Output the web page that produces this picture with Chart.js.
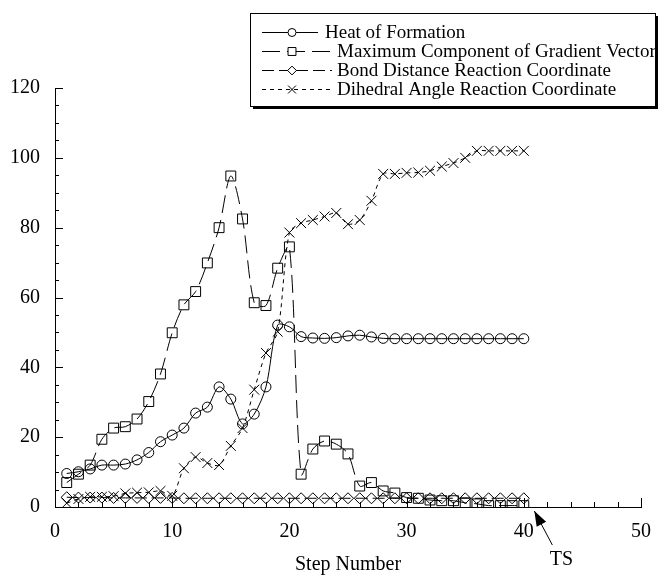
<!DOCTYPE html>
<html>
<head>
<meta charset="utf-8">
<script src="https://cdn.jsdelivr.net/npm/chart.js@4.4.1/dist/chart.umd.min.js"></script>
<style>
html,body{margin:0;padding:0;background:#fff;}
canvas{display:block;}
</style>
</head>
<body>
<canvas id="c" width="664" height="577"></canvas>
<script>
const steps = [1,2,3,4,5,6,7,8,9,10,11,12,13,14,15,16,17,18,19,20,21,22,23,24,25,26,27,28,29,30,31,32,33,34,35,36,37,38,39,40];
const heatOfFormation = [9.6,10.1,10.9,12.0,12.0,12.3,13.5,15.6,18.7,20.6,22.6,26.9,28.6,34.4,30.9,23.8,26.6,34.4,52.1,51.6,48.8,48.4,48.3,48.5,49.0,49.2,48.7,48.3,48.2,48.2,48.2,48.2,48.2,48.2,48.2,48.2,48.2,48.2,48.2,48.2];
const maxGradient = [7.0,9.4,12.0,19.4,22.6,23.0,25.2,30.2,38.1,49.9,57.9,61.7,69.9,80.0,94.8,82.5,58.5,57.7,68.4,74.5,9.4,16.6,18.9,18.0,15.2,6.0,7.0,4.6,4.0,2.7,2.5,2.0,1.8,1.8,1.2,0.9,0.4,0.4,0.4,0.4];
const bondDistance = [2.8,2.7,2.7,2.7,2.6,2.6,2.6,2.6,2.6,2.6,2.5,2.5,2.5,2.5,2.5,2.5,2.5,2.5,2.5,2.5,2.5,2.5,2.5,2.5,2.5,2.5,2.5,2.5,2.5,2.5,2.5,2.5,2.5,2.5,2.5,2.5,2.5,2.5,2.5,2.5];
const dihedralAngle = [1.1,2.3,2.9,2.9,3.1,3.9,4.1,4.2,4.6,3.2,11.1,14.3,12.6,12.0,17.5,22.6,33.6,44.1,50.2,78.6,81.3,82.2,83.2,84.2,81.0,82.2,87.7,95.4,95.4,95.7,95.8,96.3,97.5,98.5,100.0,102.0,102.0,102.0,102.0,102.0];
const seriesNames = ["Heat of Formation","Maximum Component of Gradient Vector","Bond Distance Reaction Coordinate","Dihedral Angle Reaction Coordinate"];
const xTicks = [0,10,20,30,40,50];
const yTicks = [0,20,40,60,80,100,120];

const FONT = "'Liberation Serif', 'Times New Roman', serif";

function pts(arr){ return steps.map((s,i)=>({x:s,y:arr[i]})); }

const styles = [
  {style:'circle', r:5, dash:[]},
  {style:'rect', r:7, dash:[18,7]},
  {style:'rectRot', r:5.5, dash:[12,5]},
  {style:'crossRot', r:7, dash:[4,4]}
];
const allData = [heatOfFormation, maxGradient, bondDistance, dihedralAngle];

const datasets = allData.map((arr,i)=>({
  label: seriesNames[i],
  data: pts(arr),
  borderColor:'#000',
  borderWidth:1,
  borderDash: styles[i].dash,
  backgroundColor:'rgba(0,0,0,0)',
  pointStyle: styles[i].style,
  pointRadius: styles[i].r,
  pointBorderColor:'#000',
  pointBackgroundColor:'rgba(0,0,0,0)',
  pointBorderWidth:1,
  tension:0.3,
  fill:false
}));

const ticksPlugin = {
  id:'innerTicks',
  afterDraw(chart){
    const ctx = chart.ctx;
    const xs = chart.scales.x, ys = chart.scales.y;
    const ca = chart.chartArea;
    ctx.save();
    ctx.strokeStyle='#000'; ctx.lineWidth=1; ctx.setLineDash([]);
    for(let v=0; v<=120; v+=5){
      const py = Math.round(ys.getPixelForValue(v))+0.5;
      const len = (v%20===0)?8:4;
      ctx.beginPath(); ctx.moveTo(ca.left, py); ctx.lineTo(ca.left+len, py); ctx.stroke();
    }
    for(let v=0; v<=50; v+=2){
      const px = Math.round(xs.getPixelForValue(v))+0.5;
      const len = (v%10===0)?9:5;
      ctx.beginPath(); ctx.moveTo(px, ca.bottom); ctx.lineTo(px, ca.bottom-len); ctx.stroke();
    }
    // TS annotation
    const tipX = xs.getPixelForValue(40.9), tipY = ys.getPixelForValue(0)+4;
    const tailX = tipX+18, tailY = tipY+34;
    const ang = Math.atan2(tipY-tailY, tipX-tailX);
    ctx.beginPath(); ctx.moveTo(tailX, tailY); ctx.lineTo(tipX, tipY); ctx.stroke();
    const hl = 16, hw = 0.34;
    ctx.beginPath();
    ctx.moveTo(tipX, tipY);
    ctx.lineTo(tipX - hl*Math.cos(ang-hw), tipY - hl*Math.sin(ang-hw));
    ctx.lineTo(tipX - hl*Math.cos(ang+hw), tipY - hl*Math.sin(ang+hw));
    ctx.closePath(); ctx.fillStyle='#000'; ctx.fill();
    ctx.font = "20px "+FONT; ctx.textAlign='center'; ctx.textBaseline='middle';
    ctx.fillText('TS', tailX+9, tailY+15);
    ctx.restore();
  }
};

const legendPlugin = {
  id:'boxLegend',
  afterDraw(chart){
    const ctx = chart.ctx;
    const L=250, T=13, R=655, B=106;
    ctx.save();
    ctx.fillStyle='#fff'; ctx.fillRect(L,T,R-L,B-T);
    ctx.fillStyle='#000';
    ctx.fillRect(R, T+3, 3, B-T);
    ctx.fillRect(L+3, B, R-L, 3);
    ctx.strokeStyle='#000'; ctx.lineWidth=1; ctx.setLineDash([]);
    ctx.strokeRect(L+0.5, T+0.5, R-L, B-T);
    const rowsY=[32,51,70,89];
    ctx.font = "19px "+FONT; ctx.textBaseline='middle'; ctx.textAlign='left';
    chart.data.datasets.forEach((ds,i)=>{
      const y = rowsY[i];
      const x0 = 262, x1 = i===0?318:332;
      ctx.strokeStyle='#000';
      ctx.setLineDash(ds.borderDash||[]);
      ctx.beginPath(); ctx.moveTo(x0,y+0.5); ctx.lineTo(x1,y+0.5); ctx.stroke();
      ctx.setLineDash([]);
      ctx.fillStyle='#fff';
      Chart.helpers.drawPoint(ctx, {pointStyle: ds.pointStyle, radius: ds.pointRadius*0.8, borderWidth:1}, 292, y+0.5);
      ctx.fillStyle='#000';
      ctx.fillText(ds.label, i===0?325:337, y+1);
    });
    ctx.restore();
  }
};

new Chart(document.getElementById('c'), {
  type:'line',
  data:{datasets},
  options:{
    responsive:false,
    animation:false,
    events:[],
    layout:{padding:{top:88,right:12,left:0,bottom:0}},
    plugins:{legend:{display:false}, title:{display:false}, tooltip:{enabled:false}},
    scales:{
      x:{
        type:'linear', min:0, max:50,
        afterBuildTicks(s){ s.ticks = xTicks.map(v=>({value:v})); },
        afterFit(s){ s.height = 70; },
        grid:{display:false, drawTicks:false},
        border:{display:true, color:'#000', width:1},
        ticks:{color:'#000', font:{family:FONT, size:20}, padding:13, maxRotation:0},
        title:{display:true, text:'Step Number', color:'#000', font:{family:FONT, size:20}, padding:{top:0,bottom:0}}
      },
      y:{
        type:'linear', min:0, max:120,
        afterBuildTicks(s){ s.ticks = yTicks.map(v=>({value:v})); },
        afterFit(s){ s.width = 55; },
        grid:{display:false, drawTicks:false},
        border:{display:true, color:'#000', width:1},
        ticks:{color:'#000', font:{family:FONT, size:20}, padding:15}
      }
    }
  },
  plugins:[ticksPlugin, legendPlugin]
});
</script>
</body>
</html>
